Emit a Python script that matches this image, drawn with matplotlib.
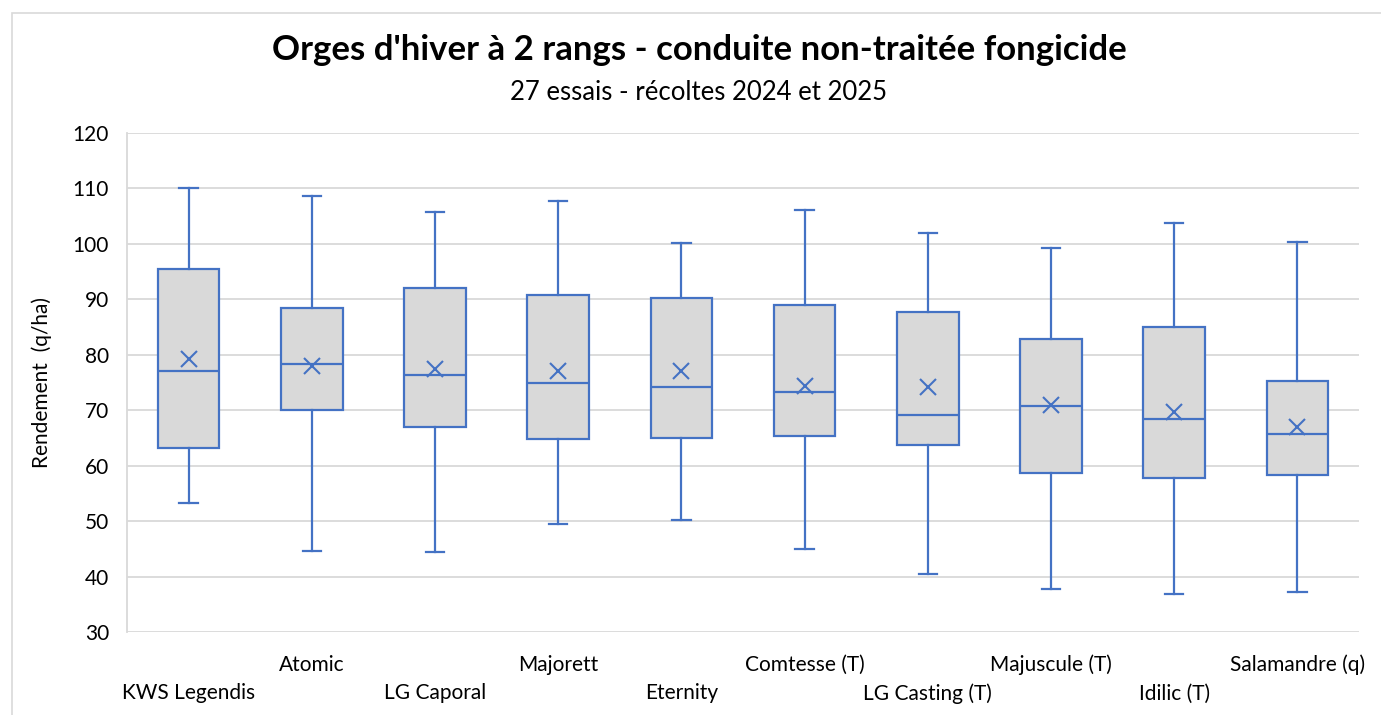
import matplotlib
matplotlib.use("Agg")
import matplotlib.pyplot as plt
from matplotlib.patches import Rectangle

# valeurs (q/ha)
varietes = ["KWS Legendis", "Atomic", "LG Caporal", "Majorett", "Eternity",
            "Comtesse (T)", "LG Casting (T)", "Majuscule (T)", "Idilic (T)", "Salamandre (q)"]
v_min = [53.2, 44.6, 44.5, 49.4, 50.2, 44.9, 40.4, 37.8, 36.9, 37.3]
v_q1 = [63.2, 70.1, 67.0, 64.8, 64.9, 65.4, 63.8, 58.6, 57.7, 58.4]
v_med = [77.0, 78.4, 76.4, 74.9, 74.2, 73.3, 69.2, 70.8, 68.4, 65.7]
v_q3 = [95.4, 88.4, 92.0, 90.8, 90.3, 88.9, 87.7, 82.8, 85.1, 75.2]
v_max = [110.0, 108.7, 105.7, 107.8, 100.2, 106.1, 101.9, 99.3, 103.7, 100.3]
v_moy = [79.2, 78.0, 77.5, 77.0, 77.0, 74.3, 74.2, 71.0, 69.7, 67.0]

bleu = "#4472C4"
gris = "#D9D9D9"
police = ["Lato", "DejaVu Sans"]
plt.rcParams["font.family"] = police

fig = plt.figure(figsize=(13.81, 7.15), dpi=100)
W, H = 1381, 715

# cadre de la zone de graphique
fig.patches.append(Rectangle((12 / W, -0.01), 1.02, 1 - 12.5 / H + 0.01,
                             transform=fig.transFigure, fill=False,
                             edgecolor=gris, lw=1.2))

ax = fig.add_axes([127 / W, (H - 632) / H, (1359 - 127) / W, (632 - 133) / H])

stats = []
for i in range(len(varietes)):
    stats.append({
        "label": varietes[i],
        "whislo": v_min[i], "q1": v_q1[i], "med": v_med[i],
        "q3": v_q3[i], "whishi": v_max[i], "mean": v_moy[i],
        "fliers": [],
    })

pos = list(range(len(varietes)))
ax.bxp(stats, positions=pos, widths=0.5, capwidths=0.15, patch_artist=True,
       showmeans=True, showfliers=False,
       boxprops=dict(facecolor=gris, edgecolor=bleu, linewidth=1.6),
       medianprops=dict(color=bleu, linewidth=1.6),
       whiskerprops=dict(color=bleu, linewidth=1.6),
       capprops=dict(color=bleu, linewidth=1.6),
       meanprops=dict(marker="x", markeredgecolor=bleu, markersize=12,
                      markeredgewidth=1.5, linestyle="none"),
       zorder=3)

ax.set_xlim(-0.5, len(varietes) - 0.5)
ax.set_ylim(30, 120)
ax.set_yticks(range(30, 121, 10))
ax.yaxis.grid(True, color=gris, lw=1.3, zorder=0)
ax.set_axisbelow(True)
for s in ["top", "right", "bottom"]:
    ax.spines[s].set_visible(False)
ax.spines["left"].set_color(gris)
ax.spines["left"].set_linewidth(1.3)
ax.tick_params(axis="y", length=0, pad=13, labelsize=15)
ax.tick_params(axis="x", length=0, labelbottom=False)

# libellés en quinconce
for i, nom in enumerate(varietes):
    yy = -0.066 if i % 2 == 1 else -0.123
    ax.text(i, yy, nom, transform=ax.get_xaxis_transform(),
            ha="center", va="center", fontsize=15)

ax.set_ylabel("Rendement  (q/ha)", fontsize=15)
ax.yaxis.set_label_coords(-0.061, 0.5)

fig.text(699 / W, 1 - 50 / H, "Orges d'hiver à 2 rangs - conduite non-traitée fongicide",
         ha="center", va="center", fontsize=25, fontweight="bold")
fig.text(699 / W, 1 - 93 / H, "27 essais - récoltes 2024 et 2025",
         ha="center", va="center", fontsize=18.5)

fig.savefig("out.png", dpi=100)
